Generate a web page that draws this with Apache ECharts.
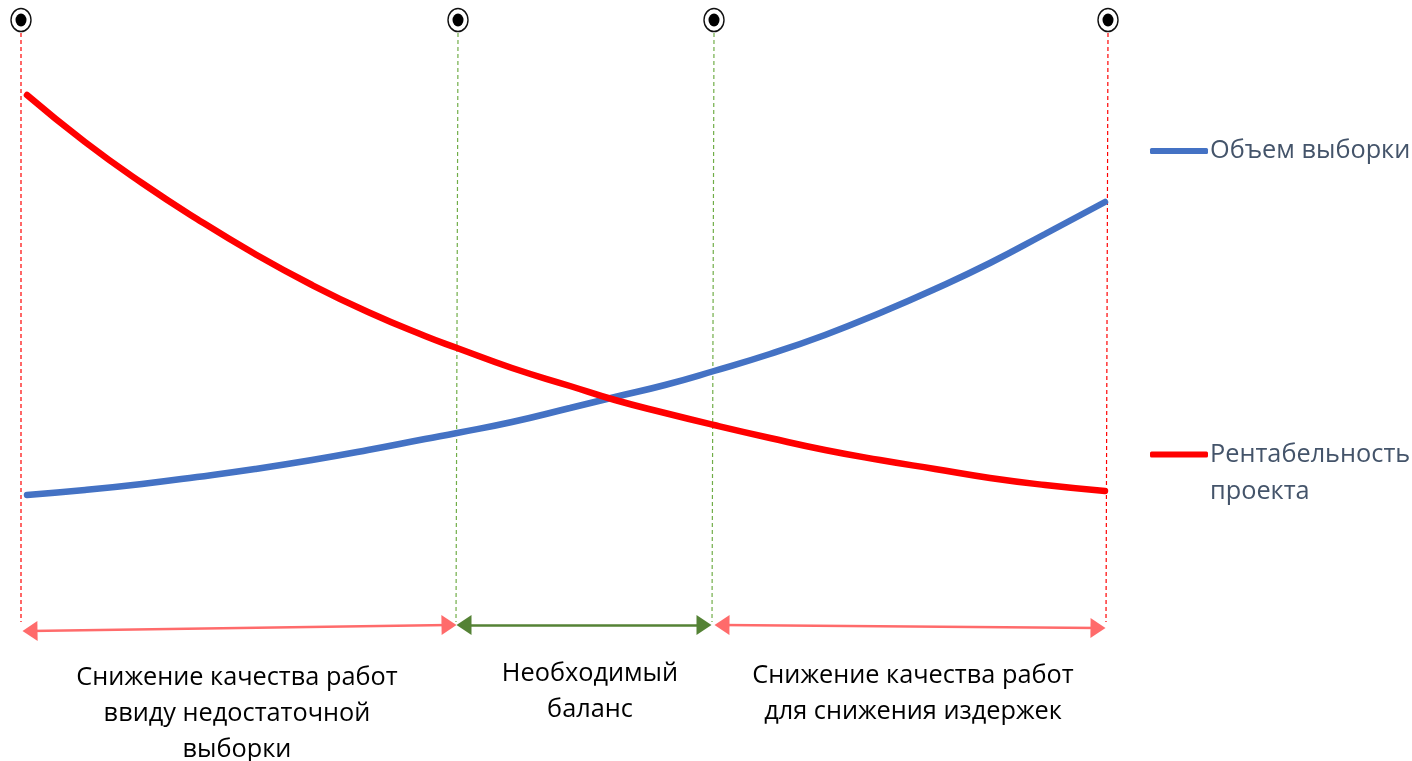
<!DOCTYPE html>
<html>
<head>
<meta charset="utf-8">
<style>
  html, body { margin: 0; padding: 0; background: #fff; }
  #box { width: 1412px; height: 761px; }
</style>
</head>
<body>
<div id="box"></div>
<script src="https://cdn.jsdelivr.net/npm/echarts@6/dist/echarts.min.js"></script>
<script>
var sampleX = [16, 74, 131, 186, 244, 301, 357, 414, 446, 501, 559, 604, 654, 703, 759, 814, 869, 924, 979, 1034, 1094];
var volumeValues = [145, 150, 156, 163, 171, 180, 190, 201, 207, 218, 232, 243, 255, 269, 286, 305, 327, 351, 377, 406, 438];
var profitValues = [545, 498, 457, 421, 386, 355, 328, 304, 292, 272, 254, 240, 227, 215, 202, 190, 180, 171, 162, 155, 149];

var stageTopX = [10, 447, 703, 1097];
var stageBottomX = [10, 445, 701, 1095];
var stageColors = ["#ff0000", "#70ad47", "#70ad47", "#ff0000"];
var guideTop = 607;
var guideBottom = 18;
var markerY = 620;

var spanStartX = [19, 453, 711];
var spanStartY = [9, 15, 15];
var spanEndX = [438, 693, 1087];
var spanEndY = [15, 15, 12];
var spanColors = ["#ff6b6b", "#548235", "#ff6b6b"];

var volumeName = "Объем выборки";
var profitName = "Рентабельность проекта";
var captions = [
  "Снижение качества работ\nввиду недостаточной\nвыборки",
  "Необходимый\nбаланс",
  "Снижение качества работ\nдля снижения издержек"
];

function zip(xs, ys) {
  return xs.map(function (x, i) { return [x, ys[i]]; });
}

// dashed verticals between the zones, one series each
var guideSeries = stageTopX.map(function (x, i) {
  return {
    name: "guide " + i,
    type: "line",
    silent: true,
    symbol: "none",
    lineStyle: { color: stageColors[i], type: [4, 3], width: 1.2 },
    data: [[x, guideTop], [stageBottomX[i], guideBottom]]
  };
});

var spanLines = spanStartX.map(function (x, i) {
  var end = { color: spanColors[i] };
  var style = { color: spanColors[i], width: 2.5, type: "solid" };
  return [
    { coord: [x, spanStartY[i]], lineStyle: style, itemStyle: end },
    { coord: [spanEndX[i], spanEndY[i]], lineStyle: style, itemStyle: end }
  ];
});

var captionFont = { fontFamily: "Open Sans", fontSize: 25.3, lineHeight: 36, fill: "#000", align: "center" };

var myChart = echarts.init(document.getElementById("box"));
var option = {
  animation: false,
  backgroundColor: "#fff",
  grid: { left: 11, top: 20, width: 1106, height: 620 },
  xAxis: { type: "value", min: 0, max: 1106, show: false },
  yAxis: { type: "value", min: 0, max: 620, show: false },
  legend: [
    {
      data: [{ name: volumeName, icon: "roundRect" }],
      left: 1150,
      top: 133,
      itemWidth: 58,
      itemHeight: 6,
      padding: 0,
      textStyle: { fontFamily: "Open Sans", fontSize: 25.3, lineHeight: 36, color: "#44546a", padding: [0, 0, 0, -3] }
    },
    {
      data: [{ name: profitName, icon: "roundRect" }],
      left: 1150,
      top: 399,
      itemWidth: 58,
      itemHeight: 6,
      padding: 0,
      // empty first line keeps the key level with the first text line
      formatter: function () { return " \nРентабельность\nпроекта"; },
      textStyle: { fontFamily: "Open Sans", fontSize: 25.3, lineHeight: 37, color: "#44546a", padding: [0, 0, 0, -3] }
    }
  ],
  series: guideSeries.concat([
    {
      name: "spans",
      type: "line",
      data: [],
      silent: true,
      markLine: {
        silent: true,
        symbol: ["triangle", "triangle"],
        symbolSize: [20, 15],
        animation: false,
        label: { show: false },
        data: spanLines
      }
    },
    {
      name: "stage ring",
      type: "scatter",
      clip: false,
      silent: true,
      symbol: "circle",
      symbolSize: [20, 23],
      itemStyle: { color: "#fff", borderColor: "#111", borderWidth: 1.5, opacity: 1 },
      data: stageTopX.map(function (x) { return [x, markerY]; })
    },
    {
      name: "stage dot",
      type: "scatter",
      clip: false,
      silent: true,
      symbol: "circle",
      symbolSize: [11, 13],
      itemStyle: { color: "#000", opacity: 1 },
      z: 3,
      data: stageTopX.map(function (x) { return [x, markerY]; })
    },
    {
      name: volumeName,
      type: "line",
      smooth: true,
      showSymbol: false,
      symbol: "none",
      lineStyle: { color: "#4472c4", width: 6.5, cap: "round" },
      itemStyle: { color: "#4472c4" },
      data: zip(sampleX, volumeValues)
    },
    {
      name: profitName,
      type: "line",
      smooth: true,
      showSymbol: false,
      symbol: "none",
      lineStyle: { color: "#ff0000", width: 6.5, cap: "round" },
      itemStyle: { color: "#ff0000" },
      data: zip(sampleX, profitValues)
    }
  ]),
  graphic: [
    { type: "text", x: 237, y: 660, style: Object.assign({ text: captions[0] }, captionFont) },
    { type: "text", x: 590, y: 656, style: Object.assign({ text: captions[1] }, captionFont) },
    { type: "text", x: 913, y: 658, style: Object.assign({ text: captions[2] }, captionFont) }
  ]
};
myChart.setOption(option);
</script>
</body>
</html>
